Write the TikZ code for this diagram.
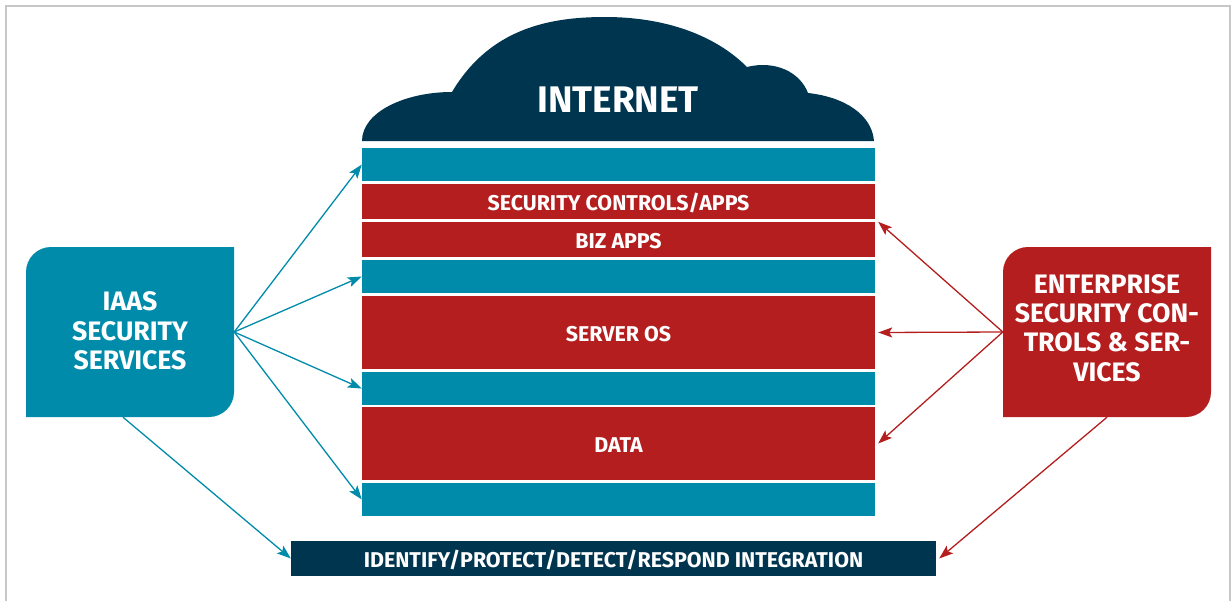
\documentclass[tikz,border=0pt]{standalone}
\usepackage{fontspec}
\setmainfont{Fira Sans}
\usetikzlibrary{arrows.meta,calc}
\definecolor{tealc}{RGB}{0,139,170}
\definecolor{redc}{RGB}{180,30,30}
\definecolor{navyc}{RGB}{0,53,80}
\tikzset{
  bar/.style={inner sep=0pt, minimum width=513pt, text=white, font=\bfseries\fontsize{21.4}{24}\selectfont, text height=14.7pt, text depth=0pt},
  tealbar/.style={bar, fill=tealc, minimum height=33pt},
  redbar/.style={bar, fill=redc},
  barlabel/.style={inner sep=0pt, text=white, font=\bfseries\fontsize{21.4}{24}\selectfont, text height=14.7pt, text depth=0pt},
  sidebox/.style={inner sep=0pt, minimum width=208pt, minimum height=170pt},
  sidetext/.style={inner sep=0pt, text=white, align=center, font=\bfseries\fontsize{26.7}{29.3}\selectfont},
  tealarrow/.style={draw=tealc, line width=1.3pt, -{Stealth[length=14pt,width=10pt,inset=3pt]}},
  redarrow/.style={draw=redc, line width=1.3pt, -{Stealth[length=14pt,width=10pt,inset=3pt]}}
}
\begin{document}
\begin{tikzpicture}[x=1pt,y=-1pt]
\useasboundingbox (0,0) rectangle (1231,600);
\draw[black!22, line width=1.5pt] (6,602) -- (6,6) -- (1230,6) -- (1230,602);
% cloud
\fill[navyc] (362,141) .. controls (362,112) and (405,92) .. (452,92)
  .. controls (490,28) and (550,17) .. (605,17)
  .. controls (665,17) and (715,35) .. (747,67)
  .. controls (775,60) and (800,72) .. (808,93)
  .. controls (845,97) and (872,115) .. (874,141) -- cycle;
\node[text=white, inner sep=0pt, font=\bfseries\fontsize{37}{40}\selectfont, text height=26pt, text depth=0pt] (internet) at (618,99) {INTERNET};
% bars
\node[tealbar] (t1) at (618.5,164.5) {};
\node[redbar, minimum height=35pt] (sec) at (618.5,201.5) {};
\node[barlabel] (secl) at (618.5,203.5) {SECURITY CONTROLS/APPS};
\node[redbar, minimum height=35pt] (biz) at (618.5,239.5) {};
\node[barlabel] (bizl) at (618.5,241.5) {BIZ APPS};
\node[tealbar] (t2) at (618.5,276.5) {};
\node[redbar, minimum height=73pt] (server) at (618.5,332.5) {};
\node[barlabel] (serverl) at (618.5,334.5) {SERVER OS};
\node[tealbar] (t3) at (618.5,388.5) {};
\node[redbar, minimum height=73pt] (data) at (618.5,443.5) {};
\node[barlabel] (datal) at (618.5,445.5) {DATA};
\node[tealbar] (t4) at (618.5,499.5) {};
% bottom bar
\node[fill=navyc, inner sep=0pt, minimum width=645pt, minimum height=35pt] (integ) at (613.5,558.5) {};
\node[barlabel] (integl) at (613.5,560) {IDENTIFY/PROTECT/DETECT/RESPOND INTEGRATION};
% side boxes
\fill[tealc] (26,417) -- (26,272) .. controls (26,258.2) and (37.2,247) .. (51,247) -- (234,247) -- (234,392) .. controls (234,405.8) and (222.8,417) .. (209,417) -- cycle;
\node[sidebox] (iaas) at (130,332) {};
\node[sidetext] (iaasl) at (130,331) {IAAS\\SECURITY\\SERVICES};
\fill[redc] (1003,417) -- (1003,272) .. controls (1003,258.2) and (1014.2,247) .. (1028,247) -- (1211,247) -- (1211,392) .. controls (1211,405.8) and (1199.8,417) .. (1186,417) -- cycle;
\node[sidebox] (ent) at (1107,332) {};
\node[sidetext] (entl) at (1107,328) {ENTERPRISE\\SECURITY CON-\\TROLS \& SER-\\VICES};
% arrows
\draw[tealarrow] (iaas.east) -- (t1.west);
\draw[tealarrow] (iaas.east) -- (t2.west);
\draw[tealarrow] (iaas.east) -- (t3.west);
\draw[tealarrow] (iaas.east) -- (t4.west);
\draw[tealarrow] ($(iaas.south)+(-7,0)$) -- (integ.west);
\draw[redarrow] (ent.west) -- ($(biz.north east)+(3,0)$);
\draw[redarrow] (ent.west) -- ($(server.east)+(3,0)$);
\draw[redarrow] (ent.west) -- ($(data.east)+(3,0)$);
\draw[redarrow] (ent.south) -- ($(integ.east)+(3,0)$);
\end{tikzpicture}
\end{document}
